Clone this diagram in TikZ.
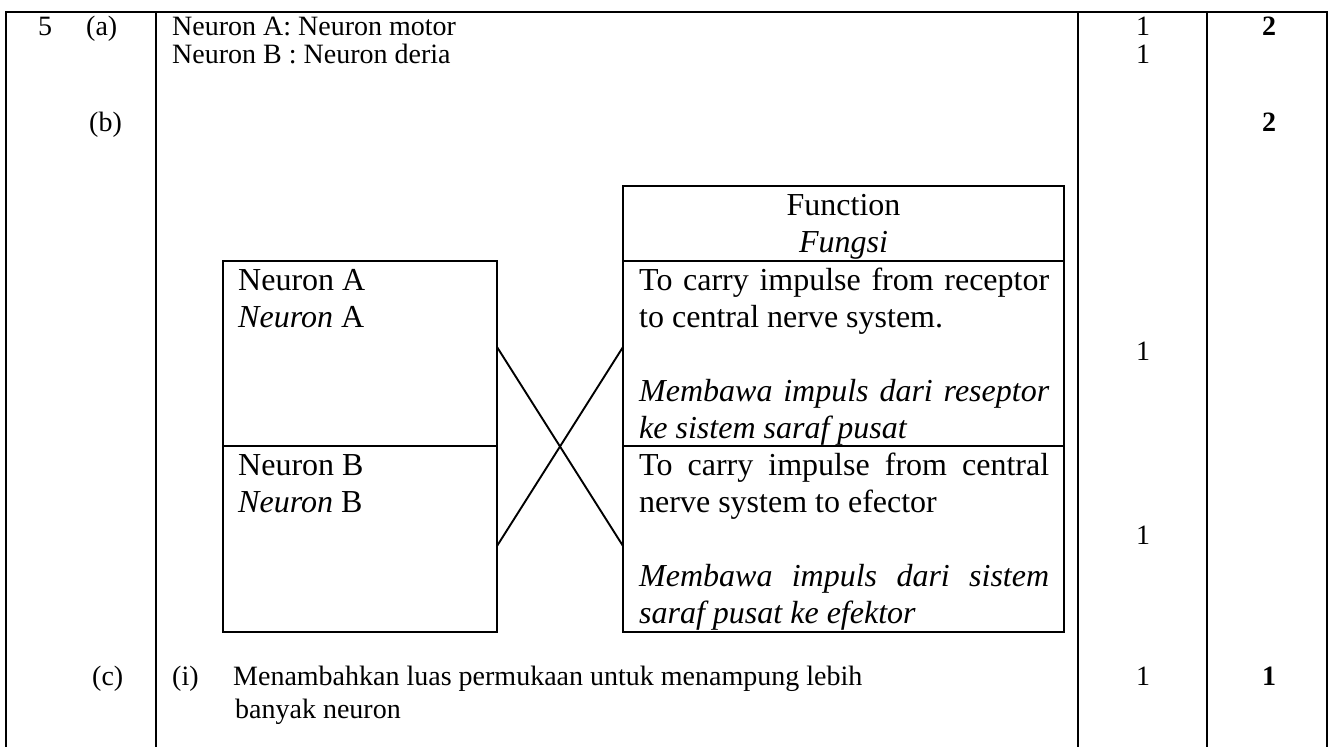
\documentclass[tikz,border=0pt]{standalone}
\usepackage{fontspec}
\setmainfont{Liberation Serif}
\newcommand{\outerfont}{\fontsize{28}{29}\selectfont}
\newcommand{\innerfont}{\fontsize{32}{37}\selectfont}
\begin{document}
\begin{tikzpicture}[x=1pt,y=-1pt,
  rule/.style={line width=2pt},
  boxrule/.style={line width=1.9pt},
  cross/.style={line width=1.9pt},
  otxt/.style={inner sep=0pt, anchor=base west, font=\outerfont},
  otxtc/.style={inner sep=0pt, anchor=base, font=\outerfont},
  itxt/.style={inner sep=0pt, anchor=base west, font=\innerfont},
  itxtc/.style={inner sep=0pt, anchor=base, font=\innerfont}]
\useasboundingbox (0,0) rectangle (1339,747);
% outer table
\draw[rule] (6,747) -- (6,12) -- (1327,12) -- (1327,747);
\draw[rule] (156,12) -- (156,747);
\draw[rule] (1078,12) -- (1078,747);
\draw[rule] (1207,12) -- (1207,747);
% row (a)
\node[otxt] (n5) at (38,35) {5};
\node[otxt] (qa) at (86,35) {(a)};
\node[otxt] (a1) at (172,35) {Neuron A: Neuron motor};
\node[otxt] (a2) at (172,63) {Neuron B : Neuron deria};
\node[otxtc] (ma1) at (1143,35) {1};
\node[otxtc] (ma2) at (1143,63) {1};
\node[otxtc] (ta) at (1269,35) {\bfseries 2};
% row (b)
\node[otxt] (qb) at (89,131) {(b)};
\node[otxtc] (tb) at (1269,131) {\bfseries 2};
% left boxes
\draw[boxrule] (223,261) rectangle (497,632);
\draw[boxrule] (223,446) -- (497,446);
\coordinate (LA) at (497,347);
\coordinate (LB) at (497,546);
\node[itxt] (nA1) at (238,290) {Neuron A};
\node[itxt] (nA2) at (238,327) {\itshape Neuron\upshape\ A};
\node[itxt] (nB1) at (238,475) {Neuron B};
\node[itxt] (nB2) at (238,512) {\itshape Neuron\upshape\ B};
% right boxes
\draw[boxrule] (623,186) rectangle (1064,632);
\draw[boxrule] (623,261) -- (1064,261);
\draw[boxrule] (623,446) -- (1064,446);
\coordinate (RA) at (623,347);
\coordinate (RB) at (623,546);
\node[itxtc] (h1) at (843.5,215) {Function};
\node[itxtc] (h2) at (843.5,252) {\itshape Fungsi};
\node[itxt] (f1) at (639,290) {\makebox[410pt][s]{To carry impulse from receptor}};
\node[itxt] (f2) at (639,327) {to central nerve system.};
\node[itxt] (f3) at (639,401) {\makebox[410pt][s]{\itshape Membawa impuls dari reseptor}};
\node[itxt] (f4) at (639,438) {\itshape ke sistem saraf pusat};
\node[itxt] (g1) at (639,475) {\makebox[410pt][s]{To carry impulse from central}};
\node[itxt] (g2) at (639,512) {nerve system to efector};
\node[itxt] (g3) at (639,586) {\makebox[410pt][s]{\itshape Membawa impuls dari sistem}};
\node[itxt] (g4) at (639,623) {\itshape saraf pusat ke efektor};
\node[otxtc] (mb1) at (1143,360) {1};
\node[otxtc] (mb2) at (1143,544) {1};
% cross connectors
\draw[cross] (LA) -- (RB);
\draw[cross] (LB) -- (RA);
% row (c)
\node[otxt] (qc) at (92,685) {(c)};
\node[otxt] (ci) at (172,685) {(i)};
\node[otxt] (c1) at (233,685) {Menambahkan luas permukaan untuk menampung lebih};
\node[otxt] (c2) at (235,718) {banyak neuron};
\node[otxtc] (mc) at (1143,685) {1};
\node[otxtc] (tc) at (1269,685) {\bfseries 1};
\end{tikzpicture}
\end{document}
